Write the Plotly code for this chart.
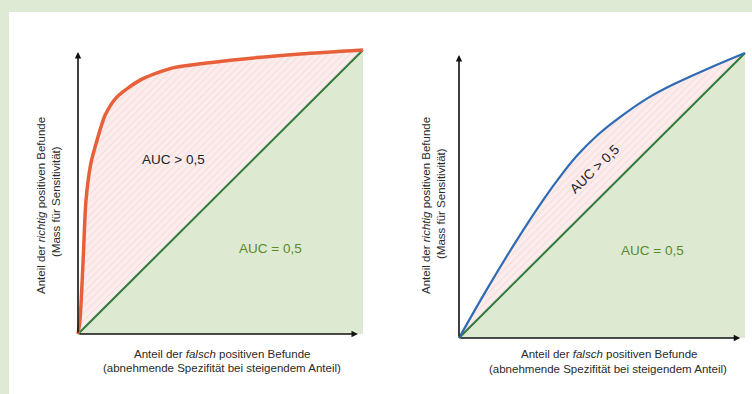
import plotly.graph_objects as go

# ---------------- data ----------------
diag_x = [0.0, 1.0]
diag_y = [0.0, 1.0]

left_fpr = [0.0, 0.007, 0.018, 0.028, 0.045, 0.067, 0.095, 0.137, 0.218, 0.333, 0.544, 0.779, 1.0]
left_tpr = [0.0, 0.049, 0.26, 0.47, 0.6, 0.683, 0.77, 0.835, 0.894, 0.937, 0.965, 0.986, 1.0]

right_fpr = [0.0, 0.1, 0.2, 0.294, 0.36, 0.413, 0.48, 0.563, 0.657, 0.75, 0.87, 1.0]
right_tpr = [0.0, 0.175, 0.34, 0.484, 0.575, 0.64, 0.708, 0.775, 0.84, 0.89, 0.945, 1.0]

x_title_lines = ["Anteil der <i>falsch</i> positiven Befunde",
                 "(abnehmende Spezifität bei steigendem Anteil)"]
y_title_lines = ["Anteil der <i>richtig</i> positiven Befunde",
                 "(Mass für Sensitivität)"]
label_gt = "AUC > 0,5"
label_eq = "AUC = 0,5"

# ---------------- layout helpers ----------------
W, H = 752, 394
PAD = 0.012

def px(x):
    return x / W

def py(y):
    return 1 - y / H

def dom_x(p0, p1):
    w = p1 - p0
    return [px(p0 - PAD * w), px(p1 + PAD * w)]

def dom_y(pbot, ptop):
    h = pbot - ptop
    return [py(pbot + PAD * h), py(ptop - PAD * h)]

GREEN_FILL = "#dde9d0"
GREEN_LINE = "#2f7a3c"
PINK_BG = "rgba(252,236,236,0.95)"
PINK_FG = "rgba(238,170,170,0.6)"

fig = go.Figure()

# left panel
fig.add_trace(go.Scatter(x=diag_x, y=diag_y, mode="lines", fill="tozeroy",
                         fillcolor=GREEN_FILL, line=dict(color=GREEN_LINE, width=2),
                         xaxis="x", yaxis="y", hoverinfo="skip", showlegend=False))
fig.add_trace(go.Scatter(x=left_fpr, y=left_tpr, mode="lines", fill="tonexty",
                         fillcolor=PINK_BG,
                         fillpattern=dict(shape="/", bgcolor=PINK_BG, fgcolor=PINK_FG,
                                          size=5, solidity=0.2),
                         line=dict(color="#e8603a", width=3.5, shape="spline", smoothing=0.7),
                         xaxis="x", yaxis="y", hoverinfo="skip", showlegend=False))

# right panel
fig.add_trace(go.Scatter(x=diag_x, y=diag_y, mode="lines", fill="tozeroy",
                         fillcolor=GREEN_FILL, line=dict(color=GREEN_LINE, width=2),
                         xaxis="x2", yaxis="y2", hoverinfo="skip", showlegend=False))
fig.add_trace(go.Scatter(x=right_fpr, y=right_tpr, mode="lines", fill="tonexty",
                         fillcolor=PINK_BG,
                         fillpattern=dict(shape="/", bgcolor=PINK_BG, fgcolor=PINK_FG,
                                          size=5, solidity=0.2),
                         line=dict(color="#2f6bb5", width=2.2, shape="spline", smoothing=1.0),
                         xaxis="x2", yaxis="y2", hoverinfo="skip", showlegend=False))

ax_common = dict(range=[-PAD, 1 + PAD], showgrid=False, zeroline=False,
                 showticklabels=False, ticks="", showline=False, fixedrange=True)

fig.update_layout(
    width=W, height=H,
    margin=dict(l=0, r=0, t=0, b=0),
    paper_bgcolor="#dfead4",
    plot_bgcolor="rgba(0,0,0,0)",
    xaxis=dict(domain=dom_x(78, 363), **ax_common),
    yaxis=dict(domain=dom_y(334, 50), **ax_common),
    xaxis2=dict(domain=dom_x(459, 745), anchor="y2", **ax_common),
    yaxis2=dict(domain=dom_y(338, 53), anchor="x2", **ax_common),
    font=dict(family="Liberation Sans, Noto Sans, sans-serif", color="#2a2a2a"),
    shapes=[dict(type="rect", xref="paper", yref="paper", x0=px(9), x1=1.01,
                 y0=-0.01, y1=py(12), fillcolor="white", line=dict(width=0), layer="below")],
)

annotations = []
# axis arrows
for xr, yr, ytop, xend in (("x", "y", 0.993, 0.982), ("x2", "y2", 0.993, 0.983)):
    annotations.append(dict(x=0, y=ytop, ax=0, ay=0, xref=xr, yref=yr, axref=xr, ayref=yr,
                            text="", showarrow=True, arrowhead=2, arrowsize=0.8,
                            arrowwidth=1.6, arrowcolor="#111111"))
    annotations.append(dict(x=xend, y=0, ax=0, ay=0, xref=xr, yref=yr, axref=xr, ayref=yr,
                            text="", showarrow=True, arrowhead=2, arrowsize=0.8,
                            arrowwidth=1.6, arrowcolor="#111111"))

def add_text(text, x, y, size, color="#2a2a2a", angle=0):
    annotations.append(dict(x=px(x), y=py(y), xref="paper", yref="paper", text=text,
                            showarrow=False, textangle=angle, xanchor="center", yanchor="middle",
                            font=dict(size=size, color=color)))

TS = 11.5
# x titles
add_text(x_title_lines[0], 222, 354, TS)
add_text(x_title_lines[1], 222, 368, TS)
add_text(x_title_lines[0], 609, 354, TS)
add_text(x_title_lines[1], 608, 369, TS)
# y titles
add_text(y_title_lines[0], 41, 206, TS, angle=-90)
add_text(y_title_lines[1], 56, 202, TS, angle=-90)
add_text(y_title_lines[0], 426, 206, TS, angle=-90)
add_text(y_title_lines[1], 441, 204, TS, angle=-90)
# AUC labels
add_text(label_gt, 173, 159, 13.5, color="#222222")
add_text(label_eq, 270, 248, 13.5, color="#5a8a2c")
add_text(label_gt, 594, 169, 13.5, color="#222222", angle=-44)
add_text(label_eq, 652, 250, 13.5, color="#5a8a2c")

fig.update_layout(annotations=annotations)

fig.write_html("out.html", config={"displayModeBar": False},
               post_script="document.body.style.margin='0';document.body.style.padding='0';")
